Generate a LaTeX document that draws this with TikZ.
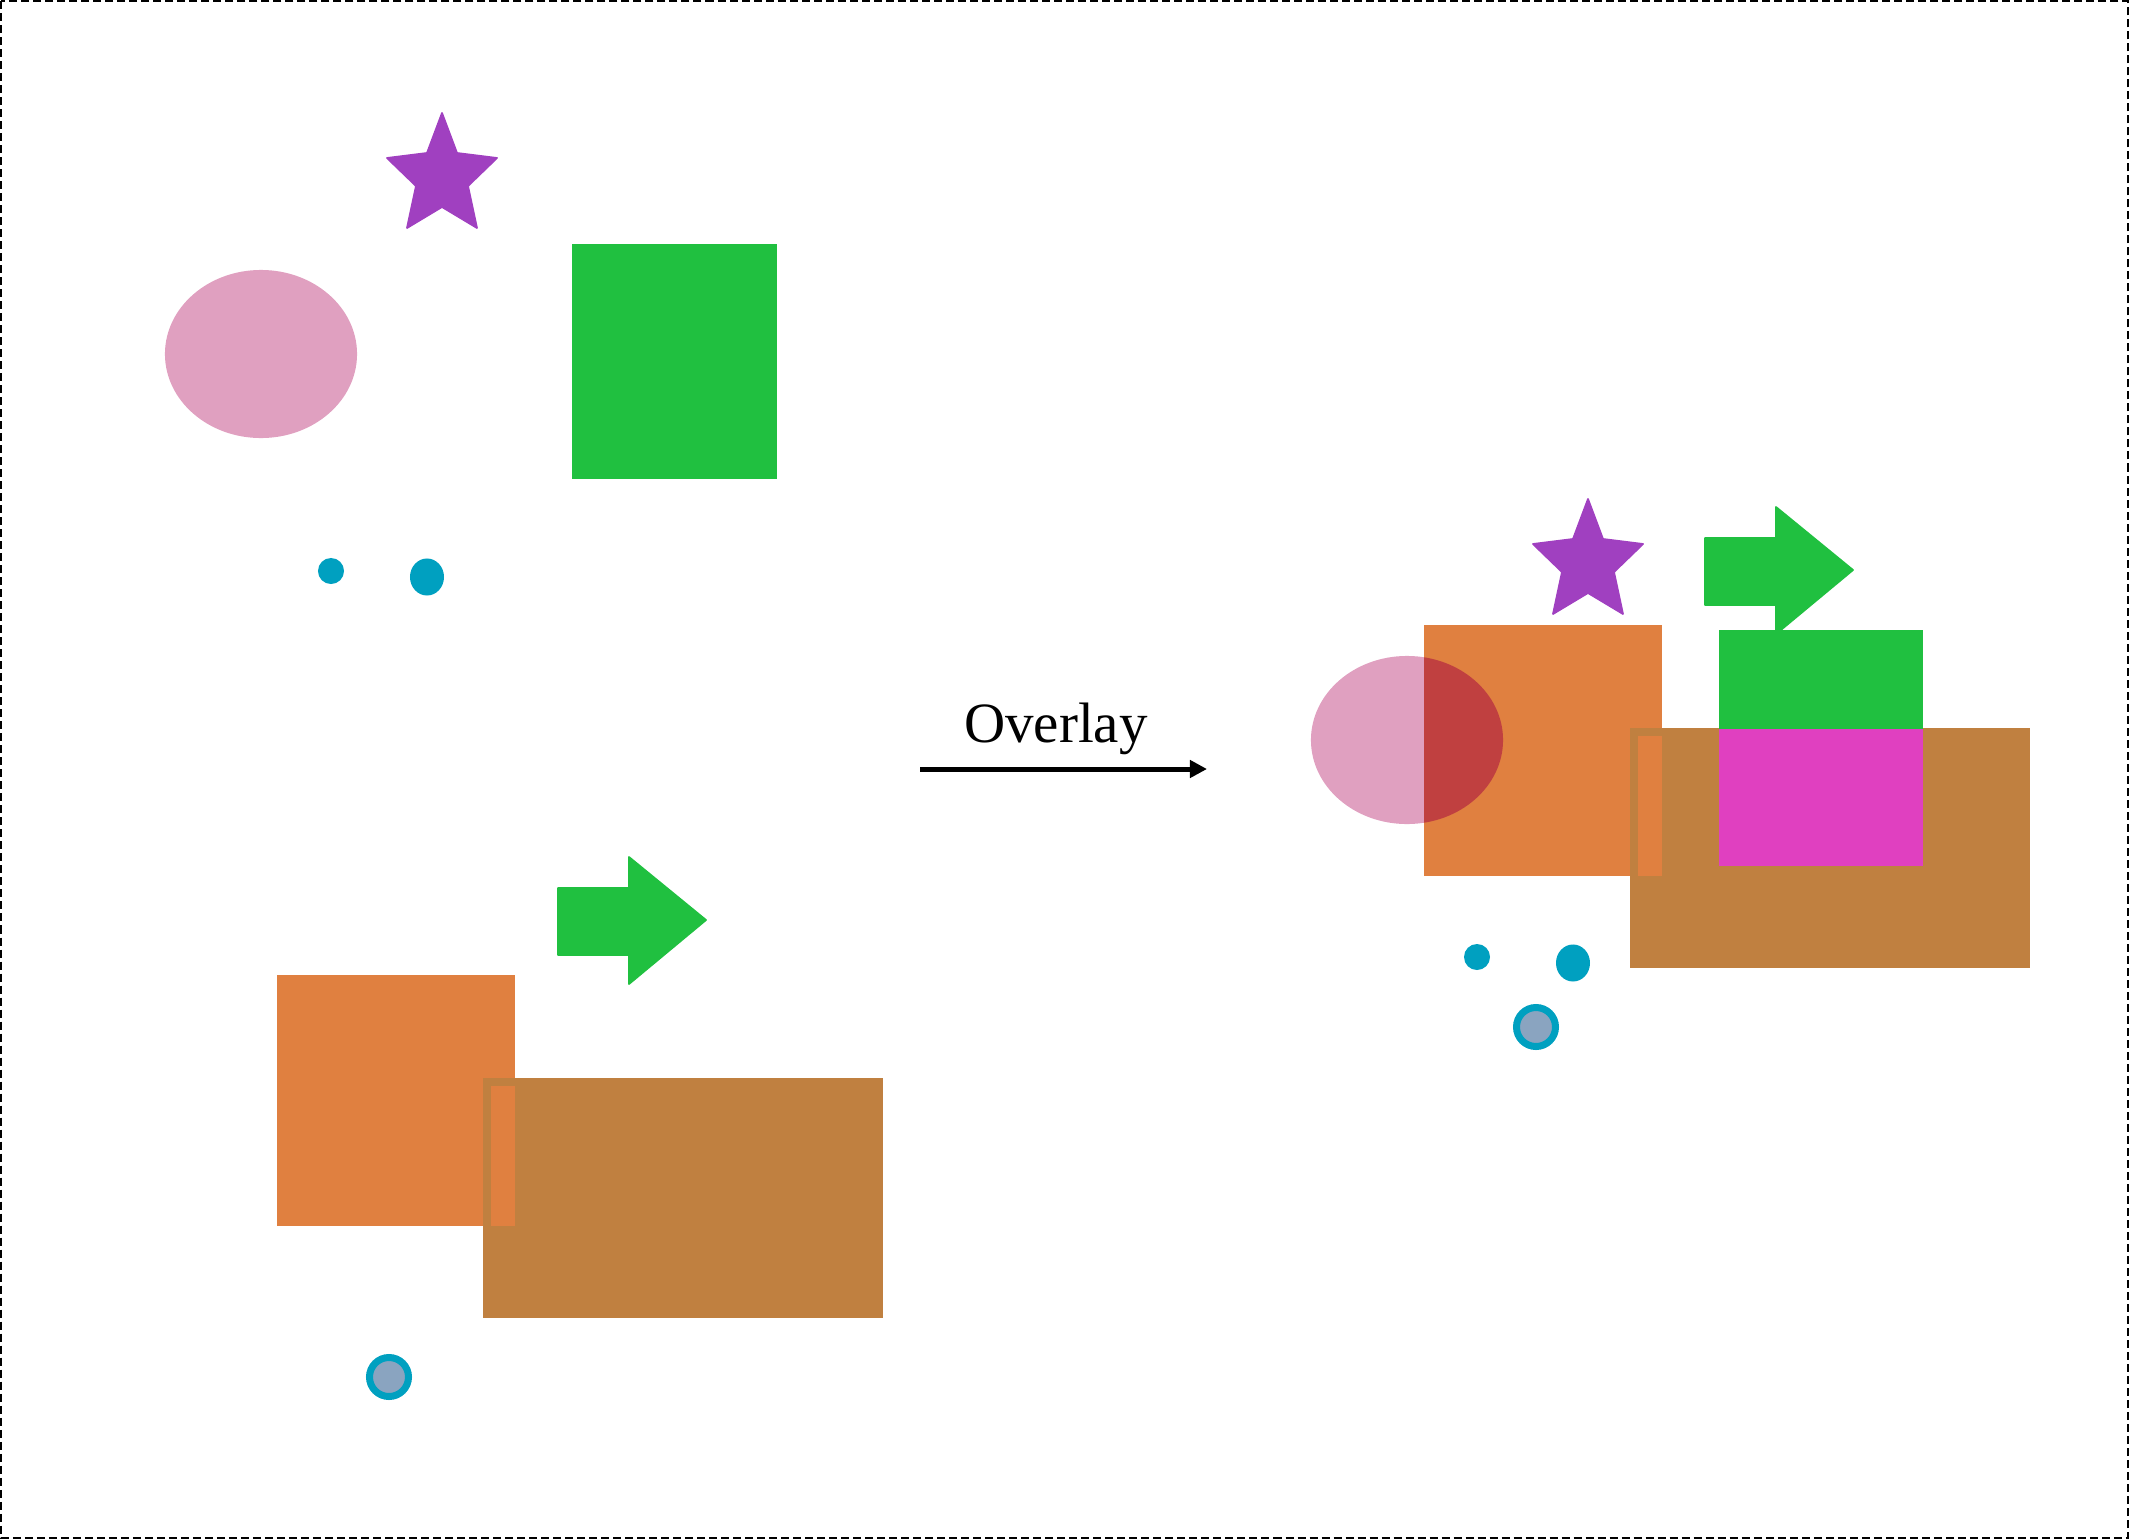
\documentclass[tikz,border=0pt]{standalone}
\usepackage{fontspec}
\setmainfont{Liberation Serif}
\usepackage{tikz}
\usetikzlibrary{arrows.meta}
\usepackage{xcolor}
\definecolor{starPurple}{RGB}{160, 64, 192}
\definecolor{blobPink}{RGB}{224, 160, 192}
\definecolor{boxGreen}{RGB}{32, 192, 64}
\definecolor{dotCyan}{RGB}{0, 160, 192}
\definecolor{ringGrey}{RGB}{138, 164, 192}
\definecolor{boxOrange}{RGB}{224, 128, 64}
\definecolor{boxBrown}{RGB}{192, 128, 64}
\definecolor{mixRed}{RGB}{192, 64, 64}
\definecolor{mixMagenta}{RGB}{224, 64, 192}

\begin{document}
\begin{tikzpicture}[
    x=0.01cm, y=-0.01cm,
    starfill/.style={fill=starPurple, draw=starPurple, line width=0.5pt, line join=round},
    blobfill/.style={fill=blobPink},
    greenfill/.style={fill=boxGreen},
    arrowfill/.style={fill=boxGreen, draw=boxGreen, line width=0.5pt, line join=round},
    dotfill/.style={fill=dotCyan},
    ringdot/.style={draw=dotCyan, fill=ringGrey, line width=0.07cm},
    orangefill/.style={fill=boxOrange},
    brownfill/.style={fill=boxBrown},
    brownedge/.style={draw=boxBrown, line width=0.08cm},
    ovarrow/.style={-{Triangle[length=0.17cm, width=0.17cm]}, line width=0.05cm},
    ovlabel/.style={font=\fontsize{16.2}{19}\selectfont, anchor=base}
]
\useasboundingbox (0,0) rectangle (2129,1539);

% Frame
\draw[line width=0.02cm, dash pattern=on 0.08cm off 0.04cm] (1,1) rectangle (2128,1538);

% Left: upper group
\fill[blobfill] (261,354) ellipse [x radius=0.96cm, y radius=0.84cm];
\filldraw[starfill] (442,113) -- (457,153) -- (497,158) -- (468,186) -- (477,228) -- (442,207)
    -- (407,228) -- (416,186) -- (387,158) -- (427,153) -- cycle;
\fill[greenfill] (572,244) rectangle (777,479);
\fill[dotfill] (331,571) circle [radius=0.13cm];
\fill[dotfill] (427,577) ellipse [x radius=0.17cm, y radius=0.185cm];

% Left: lower group
\filldraw[arrowfill] (558,888) -- (629,888) -- (629,857) -- (706,920) -- (629,984) -- (629,955) -- (558,955) -- cycle;
\fill[brownfill] (483,1078) rectangle (883,1318);
\fill[orangefill] (277,975) rectangle (515,1226);
\draw[brownedge] (487,1082) rectangle (879,1314);
\draw[ringdot] (389,1377) circle [radius=0.195cm];

% Overlay arrow
\node[ovlabel] (ovlabel) at (1056,742) {Overlay};
\coordinate (ovstart) at (920,769);
\coordinate (ovend) at (1207,769);
\draw[ovarrow] (ovstart) -- (ovend);

% Right: lower group (moved up)
\begin{scope}[shift={(1147,-350)}]
\filldraw[arrowfill] (558,888) -- (629,888) -- (629,857) -- (706,920) -- (629,984) -- (629,955) -- (558,955) -- cycle;
\fill[brownfill] (483,1078) rectangle (883,1318);
\end{scope}

% Right: upper group (moved down)
\begin{scope}[shift={(1146,386)}]
\fill[blobfill] (261,354) ellipse [x radius=0.96cm, y radius=0.84cm];
\filldraw[starfill] (442,113) -- (457,153) -- (497,158) -- (468,186) -- (477,228) -- (442,207)
    -- (407,228) -- (416,186) -- (387,158) -- (427,153) -- cycle;
\end{scope}

\begin{scope}[shift={(1147,-350)}]
\fill[orangefill] (277,975) rectangle (515,1226);
\begin{scope}
\clip (277,975) rectangle (515,1226);
\fill[mixRed] (260,1090) ellipse [x radius=0.96cm, y radius=0.84cm];
\end{scope}
\draw[brownedge] (487,1082) rectangle (879,1314);
\draw[ringdot] (389,1377) circle [radius=0.195cm];
\end{scope}

\begin{scope}[shift={(1146,386)}]
\fill[greenfill] (573,244) rectangle (777,480);
\fill[mixMagenta] (573,343) rectangle (777,480);
\fill[dotfill] (331,571) circle [radius=0.13cm];
\fill[dotfill] (427,577) ellipse [x radius=0.17cm, y radius=0.185cm];
\end{scope}

\end{tikzpicture}
\end{document}
